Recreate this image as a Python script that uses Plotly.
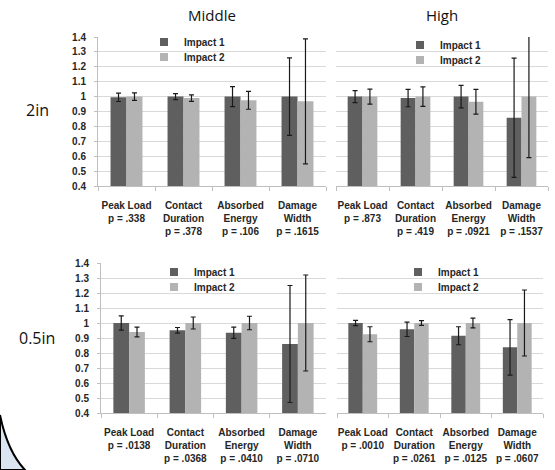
import plotly.graph_objects as go

categories = ["Peak Load", "Contact<br>Duration", "Absorbed<br>Energy", "Damage<br>Width"]
series_names = ["Impact 1", "Impact 2"]
col_titles = ["Middle", "High"]
row_titles = ["2in", "0.5in"]

# panel order: Middle 2in, High 2in, Middle 0.5in, High 0.5in
p_values = [
    [".338", ".378", ".106", ".1615"],
    [".873", ".419", ".0921", ".1537"],
    [".0138", ".0368", ".0410", ".0710"],
    [".0010", ".0261", ".0125", ".0607"],
]
impact1 = [
    [0.995, 1.0, 1.0, 1.0],
    [1.0, 0.99, 1.0, 0.858],
    [1.0, 0.951, 0.935, 0.86],
    [1.0, 0.958, 0.915, 0.838],
]
impact1_err = [
    [0.028, 0.02, 0.067, 0.26],
    [0.04, 0.058, 0.076, 0.40],
    [0.048, 0.019, 0.037, 0.39],
    [0.017, 0.048, 0.06, 0.185],
]
impact2 = [
    [1.0, 0.99, 0.975, 0.968],
    [1.0, 1.0, 0.966, 1.0],
    [0.94, 1.0, 1.0, 1.0],
    [0.925, 1.0, 1.0, 1.0],
]
impact2_err = [
    [0.025, 0.022, 0.06, 0.42],
    [0.05, 0.065, 0.083, 0.41],
    [0.033, 0.04, 0.045, 0.32],
    [0.05, 0.016, 0.032, 0.22],
]
y_ticks = [0.4, 0.5, 0.6, 0.7, 0.8, 0.9, 1.0, 1.1, 1.2, 1.3, 1.4]
y_tick_text = ["0.4", "0.5", "0.6", "0.7", "0.8", "0.9", "1", "1.1", "1.2", "1.3", "1.4"]

W, H = 555, 470
colors = ["#5f5f5f", "#b3b3b3"]

def px_x(a, b):
    return [a / W, b / W]

def px_y(top, bottom):
    return [1 - bottom / H, 1 - top / H]

xdom = [px_x(98, 326), px_x(336, 548), px_x(101, 326), px_x(337, 543)]
ydom = [px_y(37, 186), px_y(37, 186), px_y(263, 413), px_y(263, 413)]
# legend left x and centre y of the first entry (px); second entry 15 px lower
legend_pos = [(144, 42), (400, 45), (154, 272), (398, 272)]

fig = go.Figure()
tick_font = dict(family="Liberation Sans, Arial, sans-serif", size=10, color="#262626", weight="bold")

for i in range(4):
    xs = [f"{c}<br>p = {p}" for c, p in zip(categories, p_values[i])]
    ax = "" if i == 0 else str(i + 1)
    for s, (vals, errs) in enumerate([(impact1[i], impact1_err[i]), (impact2[i], impact2_err[i])]):
        fig.add_trace(go.Bar(
            x=xs, y=vals, name=series_names[s], marker_color=colors[s],
            marker_line_width=0,
            error_y=dict(type="data", array=errs, visible=True, color="#1a1a1a",
                         thickness=1.2, width=2.5),
            xaxis="x" + ax, yaxis="y" + ax, showlegend=False,
        ))
    lx, ly = legend_pos[i]
    for s in range(2):
        n = i * 2 + s
        leg = "legend" if n == 0 else f"legend{n + 1}"
        fig.add_trace(go.Scatter(
            x=[None], y=[None], mode="markers", name=series_names[s],
            marker=dict(symbol="square", size=8, color=colors[s]),
            xaxis="x" + ax, yaxis="y" + ax, legend=leg, showlegend=True,
        ))
        fig.layout[leg] = dict(
            x=lx / W, y=1 - (ly + 15 * s) / H, xanchor="left", yanchor="middle",
            bgcolor="rgba(0,0,0,0)", borderwidth=0,
            font=dict(family="Liberation Sans, Arial, sans-serif", size=10,
                      color="#262626", weight="bold"),
            itemwidth=30,
        )
    left = i in (0, 2)
    fig.layout["xaxis" + ax] = dict(
        domain=xdom[i], anchor="y" + ax, type="category", automargin=False,
        categoryorder="array", categoryarray=xs, tickangle=0,
        tickson="boundaries", ticks="outside", ticklen=4, tickcolor="#bfbfbf",
        showline=True, linecolor="#bfbfbf", linewidth=1,
        showgrid=False, tickfont=tick_font, ticklabelstandoff=10,
        fixedrange=True,
    )
    fig.layout["yaxis" + ax] = dict(
        domain=ydom[i], anchor="x" + ax, range=[0.4, 1.4], automargin=False,
        tickvals=y_ticks, ticktext=y_tick_text,
        showticklabels=left, ticks="outside" if left else "", ticklen=3,
        tickcolor="#bfbfbf", showline=left, linecolor="#bfbfbf",
        showgrid=True, gridcolor="#d9d9d9", gridwidth=1, zeroline=False,
        tickfont=tick_font, ticklabelstandoff=6 if left else 0,
        fixedrange=True,
    )

annotations = []
for j, t in enumerate(col_titles):
    cx = (xdom[j][0] + xdom[j][1]) / 2
    annotations.append(dict(text=t, x=cx, y=1 - 15 / H, xref="paper", yref="paper",
                            showarrow=False, xanchor="center", yanchor="middle",
                            font=dict(family="Open Sans, sans-serif", size=15, color="#111")))
for j, (t, yc) in enumerate(zip(row_titles, [110, 338])):
    annotations.append(dict(text=t, x=37 / W, y=1 - yc / H, xref="paper", yref="paper",
                            showarrow=False, xanchor="center", yanchor="middle",
                            font=dict(family="Open Sans, sans-serif", size=16, color="#111")))

shapes = [dict(
    type="path", xref="paper", yref="paper",
    path=f"M 0,{1 - 415 / H} Q {7.5 / W},{1 - 451.5 / H} {25 / W},0 L 0,0 Z",
    fillcolor="#dbe5f1", line=dict(color="#000", width=2), layer="below",
)]

fig.update_layout(
    width=W, height=H, margin=dict(l=0, r=0, t=0, b=0, autoexpand=False),
    paper_bgcolor="white", plot_bgcolor="white",
    barmode="group", bargap=0.44, bargroupgap=0,
    annotations=annotations, shapes=shapes,
)

fig.write_html(
    "out.html",
    config={"displayModeBar": False},
    post_script="document.body.style.margin='0';document.body.style.overflow='hidden';",
)
